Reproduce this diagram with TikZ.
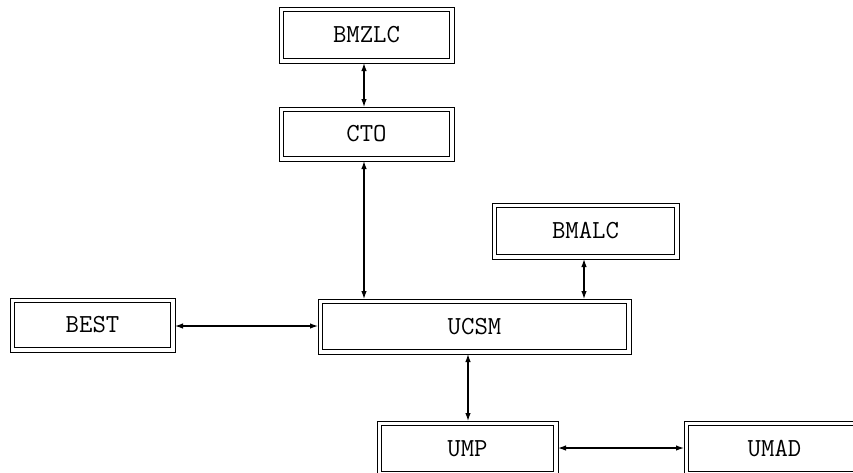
\documentclass[tikz,border=0pt]{standalone}
\usetikzlibrary{arrows.meta}

\tikzset{every picture/.style={line width=0.75pt}}
\tikzset{
  frame/.style={draw, line width=0.8pt, minimum height=#1, inner sep=0pt, outer sep=0pt},
  boxin/.style={draw, line width=1.8pt, inner sep=0pt, font=\ttfamily\fontsize{26}{30}\selectfont},
  link/.style={line width=1.2pt, {Latex[length=8pt,width=5.5pt]}-{Latex[length=8pt,width=5.5pt]}}
}

\begin{document}
\begin{tikzpicture}[x=1pt,y=1pt,yscale=-1,xscale=1]
\clip (0,0) rectangle (853,472);
\useasboundingbox (0,0) rectangle (853,472);

% Boxes: name/label/x/y/width/height
\foreach \name/\label/\x/\y/\w/\h in {
  bmzlc/BMZLC/366.5/35/175/56,
  cto/CTO/366.5/134/175/54,
  bmalc/BMALC/585.5/231/187/56,
  ucsm/UCSM/474.5/326.5/313/55,
  best/BEST/92.5/325/165/54,
  ump/UMP/467.5/448.5/181/55,
  umad/UMAD/774.5/448.5/181/55}
{
  \node[frame=\h pt, minimum width=\w pt] (\name) at (\x,\y) {};
  \node[boxin, minimum width=\w pt-9pt, minimum height=\h pt-9pt] (\name-in) at (\x,\y) {\label};
}

% Connectors
\draw[link] (bmzlc.south -| 364,0) -- (cto.north -| 364,0);
\draw[link] (cto.south -| 364,0) -- (ucsm.north -| 364,0);
\draw[link] (bmalc.south -| 584,0) -- (ucsm.north -| 584,0);
\draw[link] (best.east |- 0,326) -- (ucsm.west |- 0,326);
\draw[link] (ucsm.south -| 468,0) -- (ump.north -| 468,0);
\draw[link] (ump.east |- 0,448) -- (umad.west |- 0,448);

\end{tikzpicture}
\end{document}
